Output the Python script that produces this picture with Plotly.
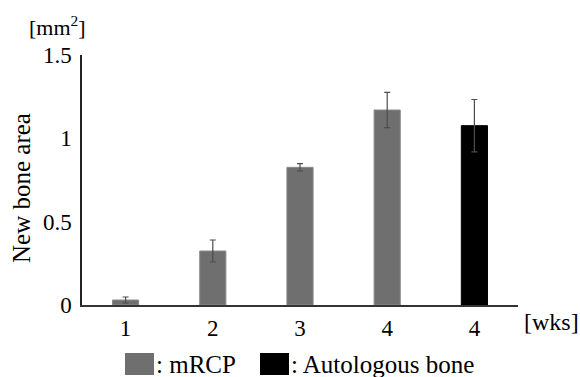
import plotly.graph_objects as go

# Data
weeks_labels = ["1", "2", "3", "4", "4"]
mrcp_values = [0.03, 0.324, 0.826, 1.17]
mrcp_errors = [0.018, 0.066, 0.022, 0.106]
auto_values = [1.076]
auto_errors = [0.157]
y_ticks = [0, 0.5, 1, 1.5]
y_tick_labels = ["0", "0.5", "1", "1.5"]

FONT = "Liberation Serif"
W, H = 580, 377
ML, MR, MT, MB = 82, 62, 55, 72
PW, PH = W - ML - MR, H - MT - MB

n_m = len(mrcp_values)
x_m = list(range(n_m))
x_a = list(range(n_m, n_m + len(auto_values)))

fig = go.Figure()
fig.add_trace(go.Bar(
    x=x_m, y=mrcp_values, name=": mRCP", width=0.3,
    marker=dict(color="#6f6f6f", line=dict(color="#8a8a8a", width=1)),
    error_y=dict(type="data", array=mrcp_errors, visible=True,
                 color="#4d4d4d", thickness=1.2, width=3),
))
fig.add_trace(go.Bar(
    x=x_a, y=auto_values, name=": Autologous bone", width=0.3,
    marker=dict(color="#000000", line=dict(color="#000000", width=1)),
    error_y=dict(type="data", array=auto_errors, visible=True,
                 color="#4d4d4d", thickness=1.2, width=3),
))

fig.update_layout(
    width=W, height=H,
    margin=dict(l=ML, r=MR, t=MT, b=MB),
    paper_bgcolor="white", plot_bgcolor="white",
    barmode="overlay", showlegend=False,
    font=dict(family=FONT, size=23, color="black"),
    xaxis=dict(
        range=[-0.5, len(weeks_labels) - 0.5],
        tickmode="array", tickvals=list(range(len(weeks_labels))),
        ticktext=weeks_labels, showline=True, linecolor="#333333",
        linewidth=1.5, ticks="", showgrid=False, zeroline=False,
        tickfont=dict(family=FONT, size=23), ticklabelstandoff=2,
    ),
    yaxis=dict(
        range=[0, 1.5], tickmode="array", tickvals=y_ticks,
        ticktext=y_tick_labels, showline=True, linecolor="#222222",
        linewidth=1.5, ticks="", showgrid=False, zeroline=False,
        tickfont=dict(family=FONT, size=23), ticklabelstandoff=4,
    ),
)

# Axis labels / units
fig.add_annotation(text="[mm<sup>2</sup>]", xref="paper", yref="paper",
                   x=0, y=1, xshift=57 - ML, yshift=MT - 26, showarrow=False,
                   font=dict(family=FONT, size=22), xanchor="center", yanchor="middle")
fig.add_annotation(text="New bone area", xref="paper", yref="paper",
                   x=0, y=0.5, xshift=21 - ML, yshift=-8, showarrow=False, textangle=-90,
                   font=dict(family=FONT, size=25), xanchor="center", yanchor="middle")
fig.add_annotation(text="[wks]", xref="paper", yref="paper",
                   x=1, y=0, xshift=551 - (W - MR), yshift=-(322 - (H - MB)), showarrow=False,
                   font=dict(family=FONT, size=24), xanchor="center", yanchor="middle")

# Custom legend (manually drawn swatches + labels)
legend_items = [(fig.data[0].name, "#6f6f6f", 125), (fig.data[1].name, "#000000", 260)]
for name, color, px in legend_items:
    x0 = (px - ML) / PW
    x1 = (px + 29 - ML) / PW
    y_top = -(353 - (H - MB)) / PH
    y_bot = -(375 - (H - MB)) / PH
    fig.add_shape(type="rect", xref="paper", yref="paper",
                  x0=x0, x1=x1, y0=y_bot, y1=y_top,
                  fillcolor=color, line=dict(width=0))
    fig.add_annotation(text=name, xref="paper", yref="paper", x=x1, y=-(364 - (H - MB)) / PH,
                       showarrow=False, xanchor="left", yanchor="middle",
                       font=dict(family=FONT, size=25))

fig.write_html("out.html", config={"displayModeBar": False},
               post_script="document.body.style.margin='0';")
